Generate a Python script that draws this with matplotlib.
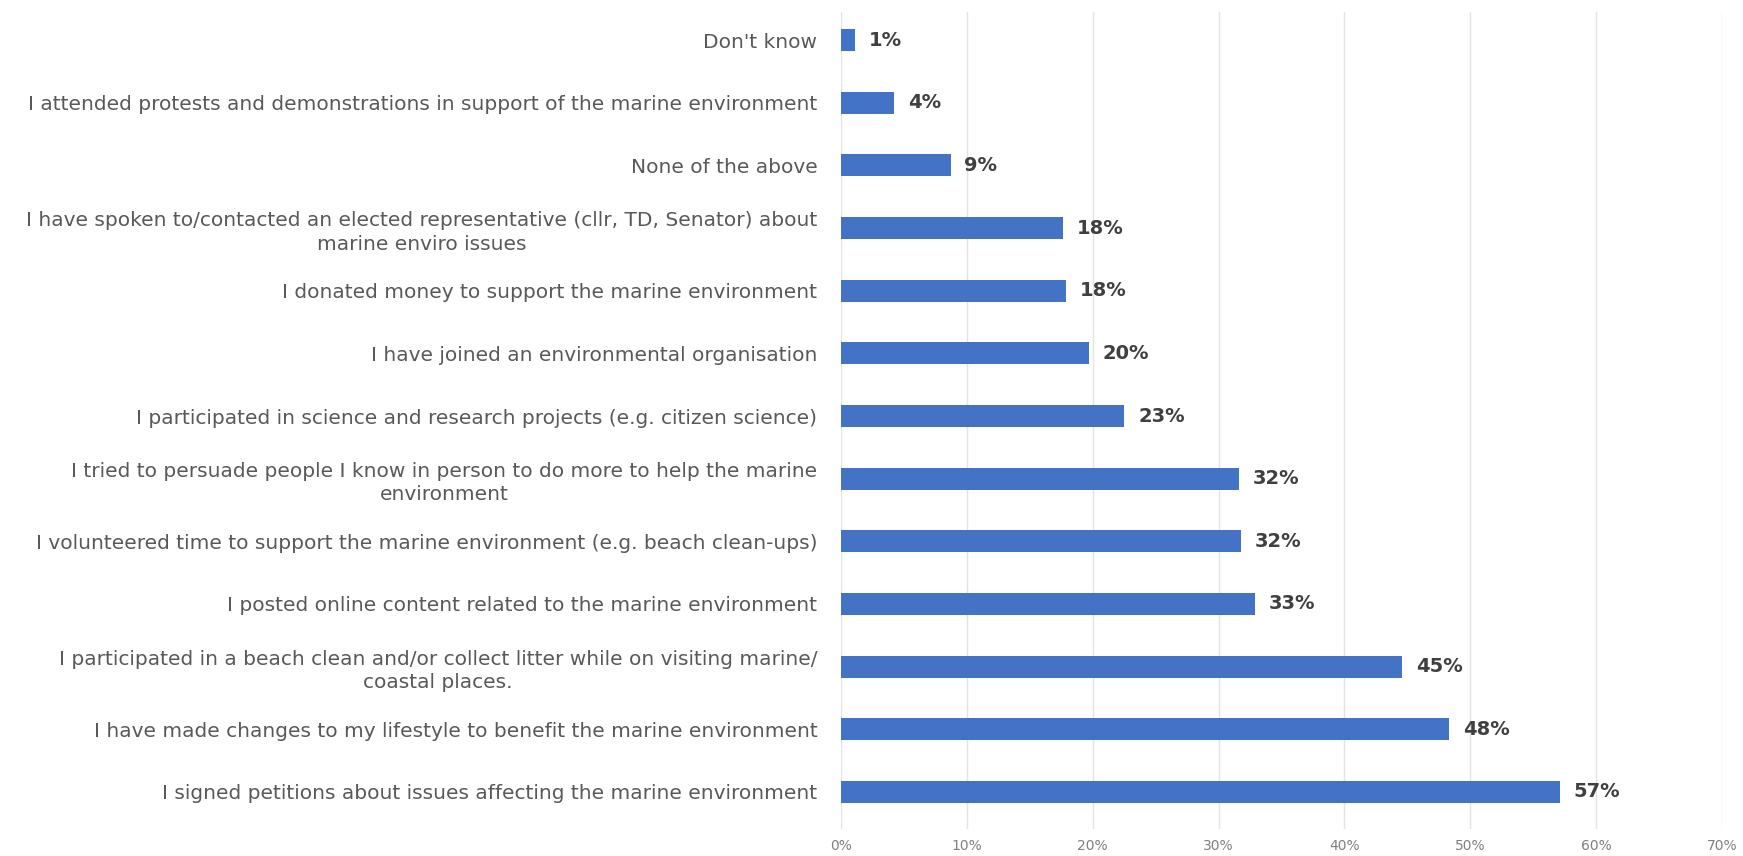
import matplotlib.pyplot as plt
from matplotlib.ticker import PercentFormatter

# acciones en favor del medio marino (de abajo hacia arriba)
acciones = [
    "I signed petitions about issues affecting the marine environment",
    "I have made changes to my lifestyle to benefit the marine environment",
    "I participated in a beach clean and/or collect litter while on visiting marine/\ncoastal places.",
    "I posted online content related to the marine environment",
    "I volunteered time to support the marine environment (e.g. beach clean-ups)",
    "I tried to persuade people I know in person to do more to help the marine\nenvironment",
    "I participated in science and research projects (e.g. citizen science)",
    "I have joined an environmental organisation",
    "I donated money to support the marine environment",
    "I have spoken to/contacted an elected representative (cllr, TD, Senator) about\nmarine enviro issues",
    "None of the above",
    "I attended protests and demonstrations in support of the marine environment",
    "Don't know",
]
porcentajes = [57.1, 48.3, 44.6, 32.9, 31.8, 31.6, 22.5, 19.7, 17.9, 17.6, 8.7, 4.2, 1.1]
etiquetas = ["57%", "48%", "45%", "33%", "32%", "32%", "23%", "20%", "18%", "18%", "9%", "4%", "1%"]

fig = plt.figure(figsize=(17.43, 8.56), dpi=100)
ax = fig.add_axes([0.4825, 0.031, 0.5055, 0.955])

pos = range(len(acciones))
barras = ax.barh(pos, porcentajes, height=0.35, color="#4472C4", zorder=3)

for b, txt in zip(barras, etiquetas):
    ax.annotate(txt, (b.get_width(), b.get_y() + b.get_height() / 2),
                xytext=(10, 0), textcoords="offset points",
                va="center", ha="left", fontsize=14, fontweight="bold",
                color="#404040")

ax.set_yticks(list(pos))
ax.set_yticklabels(acciones, fontsize=14.5, color="#595959",
                   multialignment="center", linespacing=1.3)
ax.set_ylim(-0.6, len(acciones) - 0.55)
ax.set_xlim(0, 70)
ax.set_xticks(range(0, 71, 10))
ax.xaxis.set_major_formatter(PercentFormatter(decimals=0))
ax.tick_params(axis="x", labelsize=10, labelcolor="#808080", length=0, pad=7)
ax.tick_params(axis="y", length=0, pad=17)
ax.grid(axis="x", color="#E3E3E3", linewidth=1, zorder=0)
for s in ax.spines.values():
    s.set_visible(False)

plt.savefig("out.png", dpi=100)
